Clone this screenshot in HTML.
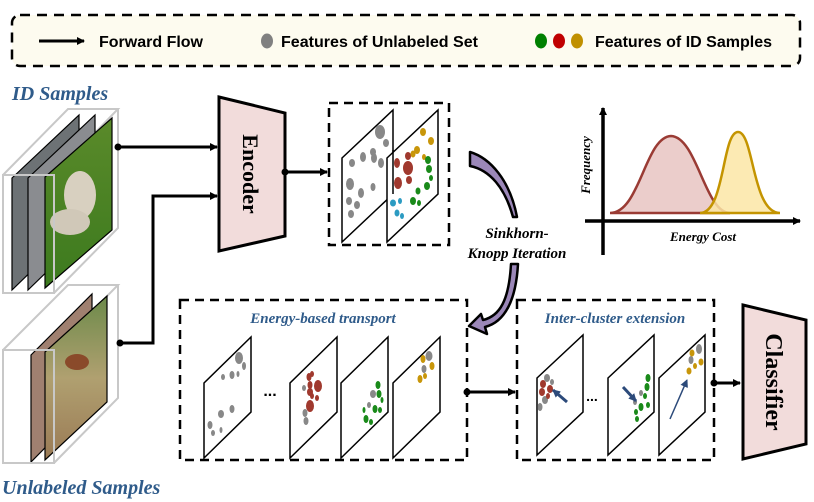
<!DOCTYPE html>
<html><head><meta charset="utf-8"><style>
html,body{margin:0;padding:0;background:#fff;}
svg{display:block;}
.serif{font-family:"Liberation Serif",serif;font-weight:bold;font-style:italic;}
.sans{font-family:"Liberation Sans",sans-serif;font-weight:bold;}
</style></head><body>
<svg width="814" height="502" viewBox="0 0 814 502" xmlns="http://www.w3.org/2000/svg">
<defs>
<marker id="ah" markerWidth="8" markerHeight="8" refX="7" refY="4" orient="auto" markerUnits="userSpaceOnUse"><path d="M0,0 L8,4 L0,8 Z" fill="#000"/></marker>
<marker id="bh" markerWidth="8" markerHeight="8" refX="7" refY="4" orient="auto" markerUnits="userSpaceOnUse"><path d="M0,0 L8,4 L0,8 Z" fill="#2c4a7a"/></marker>
<linearGradient id="g1" x1="0" y1="0" x2="0" y2="1"><stop offset="0" stop-color="#5a8a2a"/><stop offset="1" stop-color="#3c7a1e"/></linearGradient>
<linearGradient id="g2" x1="0" y1="0" x2="0" y2="1"><stop offset="0" stop-color="#6c8a4a"/><stop offset="0.5" stop-color="#b0a070"/><stop offset="1" stop-color="#9a7a55"/></linearGradient>
</defs>

<!-- legend -->
<rect x="12" y="15" width="788" height="51" rx="8" fill="#fdfbef" stroke="#000" stroke-width="2.5" stroke-dasharray="10,7"/>
<line x1="39" y1="41" x2="84" y2="41" stroke="#000" stroke-width="3" marker-end="url(#ah)"/>
<text x="99" y="47" class="sans" font-size="16" textLength="104" lengthAdjust="spacingAndGlyphs">Forward Flow</text>
<ellipse cx="267" cy="41" rx="6" ry="7.5" fill="#808080"/>
<text x="281" y="47" class="sans" font-size="16" textLength="197" lengthAdjust="spacingAndGlyphs">Features of Unlabeled Set</text>
<ellipse cx="541" cy="41" rx="6" ry="7.5" fill="#008000"/>
<ellipse cx="559" cy="41" rx="6" ry="7.5" fill="#c00000"/>
<ellipse cx="577" cy="41" rx="6" ry="7.5" fill="#c09000"/>
<text x="595" y="47" class="sans" font-size="16" textLength="177" lengthAdjust="spacingAndGlyphs">Features of ID Samples</text>

<!-- ID samples -->
<text x="12" y="100" class="serif" font-size="20" fill="#2f5b8a">ID Samples</text>
<g fill="none" stroke="#c8c8c8" stroke-width="2">
<path d="M3,175 L68,109 L118,109 L54,175 M118,109 L118,228 L54,293"/>
</g>
<polygon points="12,178 79,115 79,225 12,290" fill="#6d7275" stroke="#000" stroke-width="1.2"/>
<polygon points="28,178 95,115 95,225 28,290" fill="#8a8c90" stroke="#000" stroke-width="1.2"/>
<polygon points="45,177 112,118 112,230 45,288" fill="url(#g1)" stroke="#000" stroke-width="1.2"/>
<ellipse cx="80" cy="195" rx="16" ry="24" fill="#d8d0c0"/>
<ellipse cx="70" cy="222" rx="20" ry="13" fill="#d0c8b8"/>
<rect x="3" y="175" width="51" height="118" fill="none" stroke="#c8c8c8" stroke-width="2"/>

<!-- unlabeled -->
<g fill="none" stroke="#c8c8c8" stroke-width="2">
<path d="M3,350 L68,285 L118,285 L54,350 M118,285 L118,398 L54,463"/>
</g>
<polygon points="31,355 92,294 92,400 31,462" fill="#a08070" stroke="#000" stroke-width="1.2"/>
<polygon points="45,352 107,296 107,402 45,460" fill="url(#g2)" stroke="#000" stroke-width="1.2"/>
<ellipse cx="77" cy="362" rx="12" ry="8" fill="#8a4a2a"/>
<rect x="3" y="350" width="51" height="113" fill="none" stroke="#c8c8c8" stroke-width="2"/>
<text x="2" y="494" class="serif" font-size="20" fill="#2f5b8a">Unlabeled Samples</text>

<!-- connectors to encoder -->
<circle cx="118" cy="147" r="3.5" fill="#000"/>
<line x1="118" y1="147" x2="217" y2="147" stroke="#000" stroke-width="3" marker-end="url(#ah)"/>
<circle cx="120" cy="343" r="3.5" fill="#000"/>
<polyline points="120,343 153,343 153,196 217,196" fill="none" stroke="#000" stroke-width="3" marker-end="url(#ah)"/>

<!-- encoder -->
<polygon points="219,97 285,113 285,236 219,251" fill="#f2dcdb" stroke="#000" stroke-width="3"/>
<text transform="translate(243,174) rotate(90)" text-anchor="middle" font-family="Liberation Serif,serif" font-weight="bold" font-size="22">Encoder</text>
<circle cx="285" cy="172" r="3.5" fill="#000"/>
<line x1="285" y1="172" x2="327" y2="172" stroke="#000" stroke-width="3" marker-end="url(#ah)"/>

<!-- feature box -->
<rect x="329" y="103" width="120" height="142" fill="none" stroke="#000" stroke-width="2.5" stroke-dasharray="9,6"/>
<polygon points="342,158 393,110 393,194 342,242" fill="#fff" stroke="#000" stroke-width="1.5"/>
<g fill="#888">
<ellipse cx="380" cy="132" rx="5" ry="7"/><ellipse cx="386" cy="143" rx="3" ry="4"/><ellipse cx="373" cy="152" rx="3" ry="4"/>
<ellipse cx="363" cy="157" rx="3" ry="5"/><ellipse cx="374" cy="158" rx="3" ry="5"/><ellipse cx="352" cy="163" rx="3" ry="4"/>
<ellipse cx="381" cy="163" rx="3" ry="5"/><ellipse cx="350" cy="184" rx="4" ry="6"/><ellipse cx="373" cy="187" rx="2.5" ry="4"/>
<ellipse cx="361" cy="193" rx="3" ry="5"/><ellipse cx="349" cy="201" rx="3" ry="4"/><ellipse cx="357" cy="205" rx="3" ry="4"/><ellipse cx="351" cy="214" rx="3" ry="4"/>
</g>
<polygon points="387,158 438,110 438,194 387,242" fill="#fff" stroke="#000" stroke-width="1.5"/>
<line x1="393" y1="150" x2="393" y2="194" stroke="#000" stroke-width="1.5"/>
<g fill="#a0392e"><ellipse cx="397" cy="163" rx="3" ry="5"/><ellipse cx="408" cy="156" rx="3" ry="4"/><ellipse cx="408" cy="168" rx="5" ry="7"/><ellipse cx="409" cy="180" rx="3" ry="4"/><ellipse cx="398" cy="183" rx="4" ry="6"/></g>
<g fill="#c8960a"><ellipse cx="423" cy="132" rx="3" ry="4"/><ellipse cx="431" cy="141" rx="3" ry="4"/><ellipse cx="417" cy="150" rx="3" ry="4"/><ellipse cx="424" cy="157" rx="2" ry="3"/><ellipse cx="413" cy="154" rx="2.5" ry="3.5"/></g>
<g fill="#1a8a1a"><ellipse cx="428" cy="160" rx="3" ry="4"/><ellipse cx="429" cy="169" rx="3" ry="4"/><ellipse cx="431" cy="178" rx="2" ry="3"/><ellipse cx="427" cy="186" rx="3" ry="4"/><ellipse cx="418" cy="191" rx="2.5" ry="3.5"/><ellipse cx="413" cy="201" rx="3" ry="4"/><ellipse cx="419" cy="203" rx="2" ry="3"/></g>
<g fill="#2c9bc2"><ellipse cx="393" cy="203" rx="3" ry="3.5"/><ellipse cx="400" cy="201" rx="2" ry="3"/><ellipse cx="397" cy="213" rx="2.5" ry="3.5"/><ellipse cx="402" cy="216" rx="2" ry="3"/></g>

<!-- sinkhorn arrows -->
<path d="M470,152 C490,158 510,180 517,217 L513,217 C505,188 490,170 470,166 Z" fill="#9b87b8" stroke="#000" stroke-width="2.5" stroke-linejoin="round"/>
<text x="517" y="238" text-anchor="middle" class="serif" font-size="15">Sinkhorn-</text>
<text x="517" y="258" text-anchor="middle" class="serif" font-size="15">Knopp Iteration</text>
<path d="M518,264 C516,300 505,322 485,327 L487,334 L469,326 L481,314 L483,320 C500,316 509,300 511,264 Z" fill="#9b87b8" stroke="#000" stroke-width="2.5" stroke-linejoin="round"/>

<!-- chart -->
<line x1="603" y1="255" x2="603" y2="108" stroke="#000" stroke-width="3.5" marker-end="url(#ah)"/>
<line x1="585" y1="221" x2="800" y2="221" stroke="#000" stroke-width="3.5" marker-end="url(#ah)"/>
<path d="M610,213 C640,213 645,137 671,136 C697,137 705,213 730,213 Z" fill="#e8c4c2" fill-opacity="0.85" stroke="#9a3b34" stroke-width="2.5"/>
<path d="M700,213 C725,213 722,132 738,132 C754,132 752,213 780,213 Z" fill="#fbe6a6" fill-opacity="0.85" stroke="#c49400" stroke-width="2.5"/>
<text transform="translate(590,165) rotate(-90)" text-anchor="middle" class="serif" font-size="13">Frequency</text>
<text x="703" y="241" text-anchor="middle" class="serif" font-size="13">Energy Cost</text>

<!-- energy-based transport box -->
<rect x="180" y="300" width="287" height="160" fill="none" stroke="#000" stroke-width="2.5" stroke-dasharray="9,6"/>
<text x="323" y="323" text-anchor="middle" class="serif" font-size="15" fill="#2f5b8a">Energy-based transport</text>
<polygon points="204,383 251,337 251,412 204,458" fill="#fff" stroke="#000" stroke-width="1.5"/>
<g fill="#888"><ellipse cx="239" cy="358" rx="4" ry="6"/><ellipse cx="244" cy="366" rx="2" ry="4"/><ellipse cx="232" cy="375" rx="2.5" ry="4"/><ellipse cx="223" cy="377" rx="2" ry="3"/><ellipse cx="238" cy="374" rx="1.5" ry="3"/><ellipse cx="232" cy="409" rx="2.5" ry="4"/><ellipse cx="221" cy="414" rx="3" ry="4"/><ellipse cx="210" cy="425" rx="2.5" ry="4"/><ellipse cx="213" cy="433" rx="2" ry="3"/><ellipse cx="221" cy="430" rx="1.5" ry="3"/></g>
<text x="270" y="396" text-anchor="middle" font-family="Liberation Sans,sans-serif" font-weight="bold" font-size="16">...</text>
<polygon points="290,383 337,337 337,412 290,458" fill="#fff" stroke="#000" stroke-width="1.5"/>
<g fill="#a0392e"><ellipse cx="309" cy="377" rx="2.5" ry="4"/><ellipse cx="310" cy="385" rx="2.5" ry="4"/><ellipse cx="310" cy="406" rx="4" ry="6"/><ellipse cx="310" cy="392" rx="3" ry="4"/><ellipse cx="318" cy="386" rx="4" ry="6"/><ellipse cx="312" cy="374" rx="2" ry="3"/><ellipse cx="312" cy="396" rx="2" ry="3"/><ellipse cx="317" cy="398" rx="2" ry="3"/></g>
<g fill="#888"><ellipse cx="304" cy="388" rx="2" ry="3"/><ellipse cx="305" cy="413" rx="2.5" ry="4"/><ellipse cx="306" cy="421" rx="2.5" ry="4"/></g>
<polygon points="341,383 388,337 388,412 341,458" fill="#fff" stroke="#000" stroke-width="1.5"/>
<g fill="#888"><ellipse cx="373" cy="394" rx="3" ry="4"/><ellipse cx="369" cy="405" rx="2" ry="3"/></g>
<g fill="#1a8a1a"><ellipse cx="378" cy="385" rx="2.5" ry="4"/><ellipse cx="379" cy="394" rx="2.5" ry="4"/><ellipse cx="382" cy="400" rx="1.5" ry="3"/><ellipse cx="375" cy="409" rx="2.5" ry="4"/><ellipse cx="380" cy="410" rx="2" ry="3"/><ellipse cx="366" cy="419" rx="2.5" ry="4"/><ellipse cx="371" cy="422" rx="2" ry="3"/><ellipse cx="364" cy="410" rx="1.5" ry="3"/></g>
<polygon points="393,383 440,337 440,412 393,458" fill="#fff" stroke="#000" stroke-width="1.5"/>
<g fill="#888"><ellipse cx="429" cy="356" rx="3.5" ry="5"/><ellipse cx="424" cy="369" rx="2.5" ry="4"/></g>
<g fill="#c8960a"><ellipse cx="423" cy="359" rx="2.5" ry="4"/><ellipse cx="432" cy="366" rx="2.5" ry="4"/><ellipse cx="425" cy="376" rx="2" ry="3"/><ellipse cx="420" cy="379" rx="2.5" ry="4"/></g>
<circle cx="467" cy="392" r="3.5" fill="#000"/>
<line x1="467" y1="392" x2="515" y2="392" stroke="#000" stroke-width="3" marker-end="url(#ah)"/>

<!-- inter-cluster box -->
<rect x="517" y="300" width="197" height="160" fill="none" stroke="#000" stroke-width="2.5" stroke-dasharray="9,6"/>
<text x="615" y="323" text-anchor="middle" class="serif" font-size="15" fill="#2f5b8a">Inter-cluster extension</text>
<polygon points="537,378 583,335 583,412 537,455" fill="#fff" stroke="#000" stroke-width="1.5"/>
<g fill="#888"><ellipse cx="547" cy="378" rx="3" ry="4"/><ellipse cx="552" cy="382" rx="2" ry="3"/><ellipse cx="545" cy="400" rx="3" ry="4"/><ellipse cx="540" cy="407" rx="2.5" ry="4"/></g>
<g fill="#a0392e"><ellipse cx="543" cy="384" rx="3" ry="4"/><ellipse cx="550" cy="389" rx="3" ry="4"/><ellipse cx="542" cy="392" rx="3" ry="4"/><ellipse cx="548" cy="396" rx="2" ry="3"/></g>
<line x1="567" y1="402" x2="553" y2="390" stroke="#2c4a7a" stroke-width="3" marker-end="url(#bh)"/>
<text x="592" y="401" text-anchor="middle" font-family="Liberation Sans,sans-serif" font-weight="bold" font-size="14">...</text>
<polygon points="608,378 654,335 654,412 608,455" fill="#fff" stroke="#000" stroke-width="1.5"/>
<g fill="#1a8a1a"><ellipse cx="648" cy="378" rx="2.5" ry="4"/><ellipse cx="647" cy="387" rx="2.5" ry="4"/><ellipse cx="645" cy="396" rx="2" ry="3"/><ellipse cx="648" cy="405" rx="2" ry="3"/><ellipse cx="641" cy="407" rx="2.5" ry="4"/><ellipse cx="636" cy="412" rx="2" ry="3"/><ellipse cx="637" cy="419" rx="2" ry="3"/></g>
<g fill="#888"><ellipse cx="641" cy="393" rx="2" ry="3"/><ellipse cx="635" cy="402" rx="2" ry="3"/></g>
<line x1="623" y1="387" x2="636" y2="401" stroke="#2c4a7a" stroke-width="3" marker-end="url(#bh)"/>
<polygon points="659,378 705,335 705,412 659,455" fill="#fff" stroke="#000" stroke-width="1.5"/>
<g fill="#888"><ellipse cx="699" cy="349" rx="3" ry="5"/><ellipse cx="691" cy="360" rx="2.5" ry="4"/></g>
<g fill="#c8960a"><ellipse cx="692" cy="353" rx="2.5" ry="3.5"/><ellipse cx="701" cy="362" rx="2.5" ry="3.5"/><ellipse cx="695" cy="366" rx="2" ry="3"/><ellipse cx="689" cy="371" rx="2.5" ry="3.5"/></g>
<line x1="670" y1="419" x2="687" y2="380" stroke="#2c4a7a" stroke-width="1.5" marker-end="url(#bh)"/>
<circle cx="714" cy="383" r="3.5" fill="#000"/>
<line x1="714" y1="383" x2="740" y2="383" stroke="#000" stroke-width="3" marker-end="url(#ah)"/>

<!-- classifier -->
<polygon points="743,305 806,320 806,444 743,459" fill="#f2dcdb" stroke="#000" stroke-width="3"/>
<text transform="translate(766,382) rotate(90)" text-anchor="middle" font-family="Liberation Serif,serif" font-weight="bold" font-size="24">Classifier</text>
</svg>
</body></html>
